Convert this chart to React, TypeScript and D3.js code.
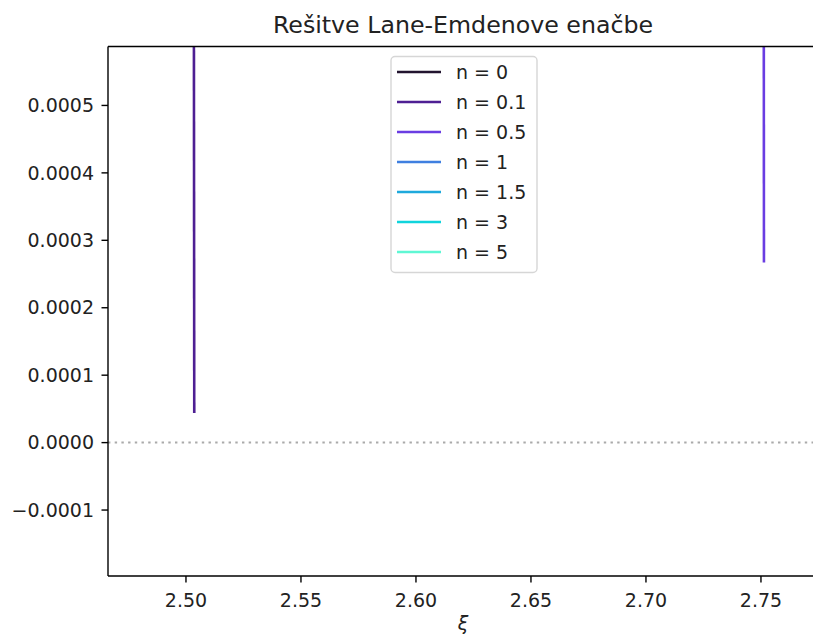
import React from "react";
import * as d3 from "d3";

const W = 813;
const H = 639;

const seriesLabels = ["n = 0", "n = 0.1", "n = 0.5", "n = 1", "n = 1.5", "n = 3", "n = 5"];
const seriesColors = ["#22142f", "#4e1f93", "#6a3de2", "#3f7fe0", "#1ea9dc", "#10d4dc", "#5ff7d4"];

// visible solution pieces (xi, theta) near the first zero
const xiN01 = [2.5034, 2.5036];
const thetaN01 = [0.0008, 0.000044];
const xiN05 = [2.7512, 2.7513];
const thetaN05 = [0.0008, 0.000267];

const xTicks = [2.5, 2.55, 2.6, 2.65, 2.7, 2.75];
const yTicks = [-0.0001, 0, 0.0001, 0.0002, 0.0003, 0.0004, 0.0005];

const xDomain = [2.4661, 2.7748];
const yDomain = [-0.0001978, 0.0005874];

export default function App() {
  const left = 108, right = 818, top = 46.5, bottom = 576;
  const x = d3.scaleLinear().domain(xDomain).range([left, right]);
  const y = d3.scaleLinear().domain(yDomain).range([bottom, top]);
  const line = d3.line<[number, number]>().x((d) => x(d[0])).y((d) => y(d[1]));

  const seriesData: { idx: number; pts: [number, number][] }[] = [
    { idx: 1, pts: xiN01.map((v, i) => [v, thetaN01[i]] as [number, number]) },
    { idx: 2, pts: xiN05.map((v, i) => [v, thetaN05[i]] as [number, number]) },
  ];

  const font = "'DejaVu Sans', sans-serif";
  const tickFs = 19;
  const legX = 391, legY = 56.5, legW = 146, legH = 216;

  return (
    <svg width={W} height={H} style={{ position: "absolute", left: 0, top: 0, background: "#fff" }} fontFamily={font}>
      <defs>
        <clipPath id="plotclip">
          <rect x={left} y={top} width={right - left} height={bottom - top} />
        </clipPath>
      </defs>
      <rect x={0} y={0} width={W} height={H} fill="#fff" />
      {/* zero line */}
      <line x1={left} x2={right} y1={y(0)} y2={y(0)} stroke="#aaaaaa" strokeWidth={2} strokeDasharray="2.4,4.3" />
      <g clipPath="url(#plotclip)">
        {seriesData.map((s) => (
          <path key={s.idx} d={line(s.pts) || ""} fill="none" stroke={seriesColors[s.idx]} strokeWidth={2.6} />
        ))}
      </g>
      {/* spines */}
      <line x1={left} x2={left} y1={top} y2={bottom} stroke="#000" strokeWidth={1.4} />
      <line x1={left} x2={right} y1={bottom} y2={bottom} stroke="#000" strokeWidth={1.4} />
      <line x1={left} x2={right} y1={top} y2={top} stroke="#000" strokeWidth={1.4} />
      {/* y ticks */}
      {yTicks.map((t) => (
        <g key={t}>
          <line x1={left - 6.5} x2={left} y1={y(t)} y2={y(t)} stroke="#000" strokeWidth={1.4} />
          <text x={left - 14} y={y(t)} dy="0.35em" textAnchor="end" fontSize={tickFs} fill="#222">
            {d3.format(".4f")(t)}
          </text>
        </g>
      ))}
      {/* x ticks */}
      {xTicks.map((t) => (
        <g key={t}>
          <line x1={x(t)} x2={x(t)} y1={bottom} y2={bottom + 6.5} stroke="#000" strokeWidth={1.4} />
          <text x={x(t)} y={607} textAnchor="middle" fontSize={tickFs} fill="#222">
            {d3.format(".2f")(t)}
          </text>
        </g>
      ))}
      {/* title */}
      <text x={(left + right) / 2} y={33} textAnchor="middle" fontSize={23.7} fill="#222">
        Rešitve Lane-Emdenove enačbe
      </text>
      {/* x label */}
      <text x={(left + right) / 2} y={630} textAnchor="middle" fontSize={19} fontStyle="italic" fill="#222">
        ξ
      </text>
      {/* legend */}
      <rect x={legX} y={legY} width={legW} height={legH} rx={4} fill="#fff" fillOpacity={0.8} stroke="#d6d6d6" strokeWidth={1.4} />
      {seriesLabels.map((lab, i) => {
        const ry = 72 + i * 30;
        return (
          <g key={lab}>
            <line x1={397} x2={441} y1={ry} y2={ry} stroke={seriesColors[i]} strokeWidth={2.6} />
            <text x={456} y={ry} dy="0.35em" fontSize={19} fill="#222">
              {lab}
            </text>
          </g>
        );
      })}
    </svg>
  );
}
